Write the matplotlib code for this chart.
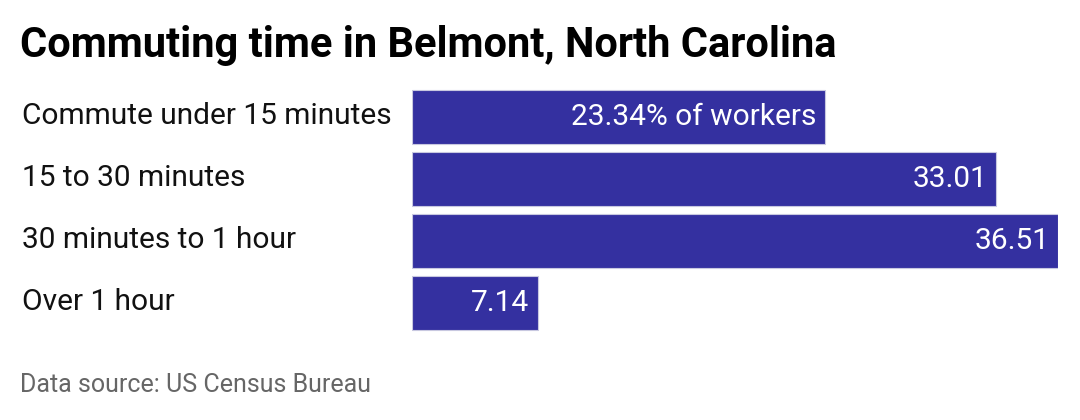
import matplotlib
matplotlib.use("Agg")
import matplotlib.pyplot as plt

categories = ["Commute under 15 minutes", "15 to 30 minutes", "30 minutes to 1 hour", "Over 1 hour"]
values = [23.34, 33.01, 36.51, 7.14]
labels = ["23.34% of workers", "33.01", "36.51", "7.14"]

plt.rcParams['font.family'] = ['Roboto', 'DejaVu Sans']
fig = plt.figure(figsize=(10.8, 4.2), dpi=100)
ax = fig.add_axes([412/1080, (420-334)/420, 646/1080, 248/420])
y = list(range(len(values)))
ax.barh(y, values, height=0.86, color="#3430a0", edgecolor="#c8c8e0", linewidth=0.8)
ax.set_xlim(0, max(values))
ax.set_ylim(len(values)-0.5, -0.5)
ax.axis("off")
for yi, v, lab in zip(y, values, labels):
    ax.text(v - 0.5, yi, lab, ha="right", va="center", color="white", fontsize=21.5)
for yi, c in zip(y, categories):
    fig.text(22/1080, (420 - (116 + 62*yi))/420, c, ha="left", va="center", fontsize=21.5, color="#111111")
fig.text(20/1080, (420-45)/420, "Commuting time in Belmont, North Carolina", fontsize=30, fontweight="bold", va="center", ha="left")
fig.text(20/1080, (420-385)/420, "Data source: US Census Bureau", fontsize=18, color="#666666", va="center", ha="left")
fig.savefig("out.png", dpi=100)
